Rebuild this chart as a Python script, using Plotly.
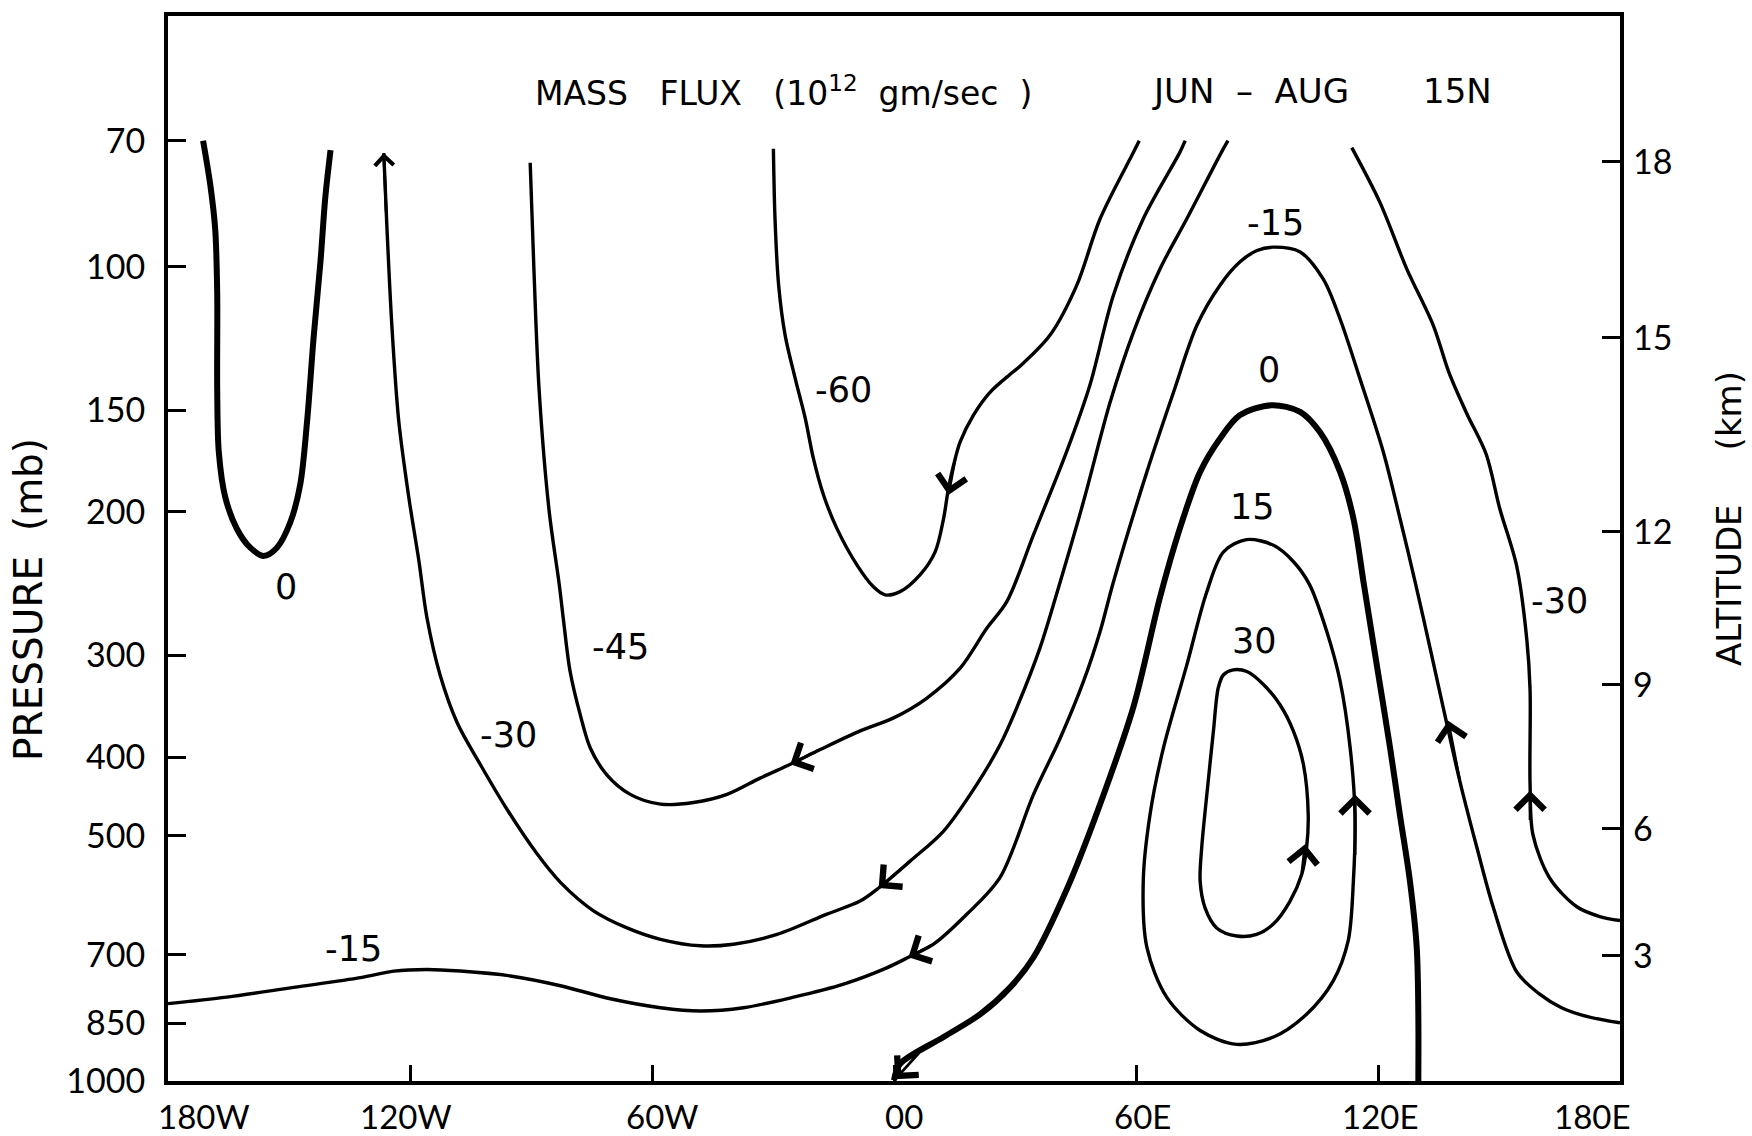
import numpy as np
import plotly.graph_objects as go

# ---------------- axes -----------------
P_TICKS = [70, 100, 150, 200, 300, 400, 500, 700, 850, 1000]          # pressure (mb)
ALT_TICKS = ["18", "15", "12", "9", "6", "3"]                           # altitude (km)
ALT_P = [74.3, 122.2, 211.5, 326.0, 490.0, 702.0]                       # pressure of each altitude mark
LON_TICKS = [-120, -60, 0, 60, 120]
LON_LABELS = ["180W", "120W", "60W", "00", "60E", "120E", "180E"]
LON_LABEL_POS = [-171.0, -121.0, -57.5, 2.5, 61.5, 120.5, 173.0]
P_TOP, P_BOTTOM = 49.2, 1000.0

# ---------------- contours (longitude, pressure mb) -----------------
LON_0_WEST = [-171.3, -169.5, -168.3, -167.8, -167.8, -167.4, -165.8, -162.9, -159.6,
              -156.3, -153.0, -149.7, -147.2, -145.5, -143.9, -142.2, -141.0, -139.7]
P_0_WEST = [70.0, 79.4, 89.9, 107.9, 141.3, 169.0, 191.9, 209.9, 221.3,
            226.5, 221.3, 206.1, 184.9, 154.5, 122.2, 98.6, 82.2, 71.9]

LON_M60 = [-29.9, -29.5, -28.6, -27.0, -24.5, -22.0, -20.0, -17.5, -14.2, -9.2, -5.1, -2.2,
           1.5, 6.5, 10.2, 12.3, 13.5, 14.8, 16.4, 19.7, 23.8, 28.8, 31.3, 38.7, 45.3, 51.1,
           59.4, 60.8]
P_M60 = [71.6, 87.3, 105.4, 121.3, 137.1, 153.5, 171.8, 190.5, 209.4, 232.3, 247.2, 252.9,
         250.6, 238.8, 223.9, 203.7, 187.1, 175.0, 164.1, 152.1, 142.6, 135.5, 132.4, 121.3,
         105.4, 87.3, 72.3, 70.0]

LON_M45 = [-90.2, -89.3, -88.0, -85.5, -83.0, -81.9, -80.3, -77.8, -75.3, -71.2, -65.4, -57.9,
           -49.7, -41.4, -33.2, -25.7, -18.3, -8.4, -0.1, 8.1, 16.4, 23.0, 28.0, 34.6, 42.8,
           48.6, 54.4, 61.8, 70.9, 72.2]
P_M45 = [74.5, 100.0, 141.3, 199.5, 245.5, 272.9, 314.1, 354.8, 389.9, 420.7, 444.6, 457.1,
         455.0, 444.6, 424.6, 408.3, 391.7, 371.5, 358.1, 338.8, 311.2, 278.0, 257.6, 213.3,
         168.7, 139.6, 108.4, 87.3, 72.3, 70.0]

LON_M30_WEST = [-126.5, -125.7, -124.5, -122.8, -120.3, -117.8, -115.8, -112.5, -108.3, -102.6,
                -96.0, -88.5, -82.7, -74.5, -66.2, -57.9, -48.0, -39.8, -29.0, -16.6, -8.4,
                -3.8, 4.0, 12.3, 20.5, 26.3, 30.4, 36.2, 41.2, 47.0, 53.6, 59.4, 66.0, 72.6,
                81.2, 82.8]
P_M30_WEST = [72.5, 89.9, 118.0, 154.5, 191.9, 229.6, 269.8, 317.7, 363.1, 408.3,
              463.4, 526.0, 570.2, 618.0, 648.6, 669.9, 682.3, 679.2, 660.7, 623.7, 601.2,
              579.4, 537.0, 493.2, 432.5, 386.4, 348.3, 293.8, 243.8, 194.1, 146.6, 120.2,
              100.5, 87.3, 72.3, 70.0]

LON_M30_EAST = [113.5, 120.5, 127.1, 133.7, 137.6, 142.0, 146.8, 150.2, 154.4, 156.9, 157.7,
                157.7, 158.4, 162.6, 169.3, 175.0, 180.0]
P_M30_EAST = [71.4, 83.4, 100.5, 118.0, 134.9, 151.4, 169.8, 198.2, 233.3, 287.1, 330.4,
              431.5, 497.7, 563.6, 610.9, 628.1, 635.3]

LON_M15 = [-180.0, -165.4, -148.8, -132.3, -124.0, -115.8, -107.5, -95.1, -82.7, -70.3, -57.9,
           -48.0, -37.3, -24.9, -12.5, -1.8, 3.6, 9.8, 18.1, 26.3, 34.6, 41.2, 47.0, 51.1, 54.4,
           62.7, 69.3, 75.1, 80.8, 85.8, 90.0, 94.1, 100.7, 106.4, 110.6, 115.5, 121.3, 125.5,
           129.2, 132.9, 136.2, 140.3, 144.5, 148.6, 154.4, 160.0, 165.5, 172.0, 180.0]
P_M15 = [803.5, 788.9, 767.4, 746.5, 732.8, 729.5, 732.8, 743.0, 763.8, 792.5, 812.8,
         820.4, 812.8, 788.9, 760.3, 726.1, 704.7, 679.2, 623.7, 562.3, 444.6, 379.3, 322.8,
         280.5, 243.8, 178.6, 142.6, 118.0, 105.4, 98.6, 95.5, 94.6, 95.9, 103.5, 115.9, 137.1,
         168.7, 204.2, 243.8, 293.8, 348.3, 428.5, 516.4, 612.4, 734.5, 781.6, 812.8, 833.7,
         848.3]

LON_0_EAST = [0.0, 1.5, 12.3, 21.4, 28.8, 34.6, 42.8, 51.1, 59.4, 66.0, 70.9, 75.9, 80.8, 85.8,
              93.6, 100.7, 105.6, 110.6, 113.9, 116.5, 119.7, 123.0, 125.4, 127.9, 129.6, 130.0,
              130.0]
P_0_EAST = [998.0, 952.8, 883.1, 827.9, 767.4, 704.7, 582.1, 457.1, 346.7, 254.1, 209.4, 178.6,
            162.6, 152.1, 147.9, 150.7, 159.6, 178.6, 203.7, 245.5, 308.3, 389.9, 469.9, 567.5,
            685.5, 827.9, 1000.0]

LON_P15 = [87.4, 94.1, 99.0, 103.0, 107.3, 110.6, 113.1, 114.3, 113.9, 112.6, 108.9, 102.3, 94.1,
           85.0, 75.9, 67.6, 62.7, 61.8, 63.5, 66.8, 72.6, 77.5, 81.7, 87.4]
P_P15 = [216.3, 219.8, 230.1, 245.5, 280.5, 322.8, 389.9, 469.9, 567.5, 673.0, 753.4, 827.9,
         883.1, 901.6, 867.0, 788.9, 685.5, 567.5, 469.9, 389.9, 308.3, 251.2, 223.9, 216.3]

LON_P30 = [84.1, 87.5, 91.6, 95.7, 99.0, 101.5, 102.7, 102.3, 101.1, 98.2, 94.1, 89.9, 85.0,
           80.0, 77.1, 75.9, 76.3, 77.9, 79.2, 80.4, 81.7, 84.1]
P_P30 = [312.6, 314.1, 325.8, 345.1, 371.5, 408.3, 470.9, 516.4, 557.2, 601.2, 641.2, 660.7,
         663.7, 648.6, 612.4, 567.5, 516.4, 428.5, 371.5, 328.9, 317.0, 312.6]

# contour labels
LABEL_TEXT = ["0", "-15", "-30", "-45", "-60", "-15", "0", "15", "30", "-30"]
LABEL_LON = [-150.7, -134.0, -95.5, -67.8, -12.5, 94.6, 93.0, 88.9, 89.4, 165.0]
LABEL_P = [247.0, 689.0, 376.0, 293.0, 141.5, 88.3, 134.0, 197.5, 288.0, 257.0]

# flow arrows (tip and a point just behind it on the same contour)
ARROW_TIP_LON = [13.5, -25.7, -3.8, 3.6, 0.3, 114.3, 101.9, 137.4, 157.7, -126.5]
ARROW_TIP_P = [190.6, 408.3, 579.4, 704.7, 995.0, 444.6, 512.0, 361.0, 440.0, 72.5]
ARROW_TAIL_LON = [15.2, -18.3, 4.0, 9.8, 6.5, 114.3, 101.1, 140.3, 157.7, -125.9]
ARROW_TAIL_P = [171.8, 391.7, 537.0, 679.2, 920.0, 530.0, 557.0, 428.5, 480.0, 86.0]

# ---------------- styling -----------------
NUM_FONT = "DejaVu Sans, sans-serif"
TICK_FONT = "Lato, DejaVu Sans, sans-serif"
ARROW_SCALE = [2.0] * 9 + [1.3]
NB = "\u00a0"
THIN, THICK = 3.4, 6.0

fig = go.Figure()

CONTOURS = [
    (LON_0_WEST, P_0_WEST, THICK),
    (LON_M60, P_M60, THIN),
    (LON_M45, P_M45, THIN),
    (LON_M30_WEST, P_M30_WEST, THIN),
    (LON_M30_EAST, P_M30_EAST, THIN),
    (LON_M15, P_M15, THIN),
    (LON_0_EAST, P_0_EAST, THICK),
    (LON_P15, P_P15, THIN),
    (LON_P30, P_P30, THIN),
]
for lon, p, w in CONTOURS:
    fig.add_trace(go.Scatter(x=lon, y=p, mode="lines",
                             line=dict(color="black", width=w, shape="spline", smoothing=0.9),
                             hoverinfo="skip", showlegend=False))

# invisible trace to anchor the altitude axis
fig.add_trace(go.Scatter(x=[180] * len(ALT_P), y=ALT_P, yaxis="y2", mode="markers",
                         marker=dict(opacity=0), hoverinfo="skip", showlegend=False))

ann = []
for t, lo, p in zip(LABEL_TEXT, LABEL_LON, LABEL_P):
    ann.append(dict(x=lo, y=np.log10(p), xref="x", yref="y", text=t, showarrow=False,
                    font=dict(family=NUM_FONT, size=35, color="black")))

for i, (tl, tp, bl, bp) in enumerate(zip(ARROW_TIP_LON, ARROW_TIP_P, ARROW_TAIL_LON, ARROW_TAIL_P)):
    ann.append(dict(x=tl, y=np.log10(tp), ax=bl, ay=np.log10(bp), xref="x", yref="y",
                    axref="x", ayref="y", text="", showarrow=True, arrowhead=4,
                    arrowsize=ARROW_SCALE[i], arrowwidth=2.8, arrowcolor="black", standoff=0))

for lab, lo in zip(LON_LABELS, LON_LABEL_POS):
    ann.append(dict(x=lo, y=-0.033, xref="x", yref="paper", text=lab, showarrow=False,
                    yanchor="middle", font=dict(family=TICK_FONT, size=33, color="black")))

TITLE_P = 60.9
ann.append(dict(x=-27.5, y=np.log10(TITLE_P), xref="x", yref="y",
                text="MASS" + NB * 3 + "FLUX" + NB * 3 + "(10<sup>12</sup>" + NB * 2 + "gm/sec" + NB * 2 + ")",
                showarrow=False, font=dict(family=NUM_FONT, size=33, color="black")))
ann.append(dict(x=88.3, y=np.log10(TITLE_P), xref="x", yref="y",
                text="JUN" + NB * 2 + "\u2013" + NB * 2 + "AUG",
                showarrow=False, font=dict(family=NUM_FONT, size=34, color="black")))
ann.append(dict(x=139.6, y=np.log10(TITLE_P), xref="x", yref="y", text="15N",
                showarrow=False, font=dict(family=NUM_FONT, size=34, color="black")))
ann.append(dict(x=-0.0962, y=0.452, xref="paper", yref="paper", xanchor="center", yanchor="middle",
                text="PRESSURE" + NB * 2 + "(mb)", textangle=-90, showarrow=False,
                font=dict(family=NUM_FONT, size=39, color="black")))
ann.append(dict(x=1.075, y=0.5285, xref="paper", yref="paper", xanchor="center", yanchor="middle",
                text="ALTITUDE" + NB * 5 + "(km)", textangle=-90, showarrow=False,
                font=dict(family=NUM_FONT, size=34, color="black")))

yrange = [np.log10(P_BOTTOM), np.log10(P_TOP)]
fig.update_layout(
    width=1752, height=1136,
    margin=dict(l=168, r=132, t=13, b=55),
    paper_bgcolor="white", plot_bgcolor="white",
    showlegend=False,
    annotations=ann,
    xaxis=dict(range=[-180, 180], showline=True, linewidth=4, linecolor="black", mirror=True,
               ticks="inside", ticklen=16, tickwidth=3, tickcolor="black",
               tickvals=LON_TICKS, showticklabels=False, showgrid=False, zeroline=False),
    yaxis=dict(type="log", range=yrange, showline=True, linewidth=4, linecolor="black",
               mirror=True, ticks="inside", ticklen=18, tickwidth=3, tickcolor="black",
               tickvals=P_TICKS, ticktext=[str(v) for v in P_TICKS],
               tickfont=dict(family=TICK_FONT, size=34, color="black"),
               ticklabelstandoff=12, showgrid=False, zeroline=False),
    yaxis2=dict(type="log", range=yrange, overlaying="y", side="right", showline=False,
                ticks="inside", ticklen=18, tickwidth=3, tickcolor="black",
                tickvals=ALT_P, ticktext=ALT_TICKS,
                tickfont=dict(family=TICK_FONT, size=34, color="black"),
                ticklabelstandoff=12, showgrid=False, zeroline=False),
)

fig.write_html("out.html")
